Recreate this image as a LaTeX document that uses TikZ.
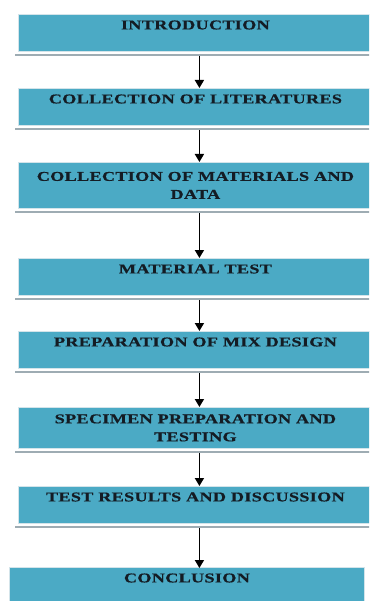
\documentclass[tikz,border=0pt]{standalone}
\usepackage{fontspec}
\usetikzlibrary{arrows.meta}
\newfontfamily\stepfont{Liberation Serif}[FakeStretch=1.35,LetterSpace=2,FakeBold=0.6]

\definecolor{stepfill}{HTML}{4BAAC5}
\definecolor{stepedge}{HTML}{D3E4EA}
\definecolor{rulegrey}{HTML}{9EACB3}
\definecolor{textdark}{HTML}{141C24}

\tikzset{
  stepbox/.style={anchor=north west, fill=stepfill, draw=stepedge, line width=0.8pt,
    minimum width=354pt, inner xsep=0pt, inner ysep=2pt, align=center,
    font=\stepfont\bfseries\fontsize{13.5}{18}\selectfont, text=textdark},
  oneline/.style={stepbox, text height=13pt, text depth=20pt},
  twoline/.style={stepbox, minimum height=#1},
  underline/.style={rulegrey, line width=1.7pt},
  arr/.style={-{Triangle[length=8pt,width=9pt]}, line width=1.7pt, black},
}

\begin{document}
\begin{tikzpicture}[x=1pt, y=-1pt]
  \useasboundingbox (0,0) rectangle (369,601);
  \clip (0,0) rectangle (369,601);
  \fill[white] (0,0) rectangle (369,601);

  % Steps, top to bottom
  \node[oneline] (intro) at (18,14) {INTRODUCTION};
  \node[oneline] (lit) at (18,88) {COLLECTION OF LITERATURES};
  \node[twoline=46pt] (mat) at (18,162) {COLLECTION OF MATERIALS AND\\DATA};
  \node[oneline] (test) at (18,258) {MATERIAL TEST};
  \node[oneline] (mix) at (18,331) {PREPARATION OF MIX DESIGN};
  \node[twoline=41pt] (spec) at (18,407) {SPECIMEN PREPARATION AND\\TESTING};
  \node[oneline] (res) at (18,486) {TEST RESULTS AND DISCUSSION};
  \node[oneline, minimum width=355pt, text depth=30pt] (concl) at (9,567) {CONCLUSION};

  % Grey rule under each box
  \foreach \b in {intro,lit,mat,test,mix,spec,res}
    \draw[underline] ([xshift=-3pt,yshift=-3pt]\b.south west) -- ([yshift=-3pt]\b.south east);

  % Arrows
  \draw[arr] ([xshift=4pt,yshift=-4pt]intro.south) -- ([xshift=4pt]lit.north);
  \draw[arr] ([xshift=4pt,yshift=-4pt]lit.south) -- ([xshift=4pt]mat.north);
  \draw[arr] ([xshift=4pt,yshift=-4pt]mat.south) -- ([xshift=4pt]test.north);
  \draw[arr] ([xshift=4pt,yshift=-4pt]test.south) -- ([xshift=4pt]mix.north);
  \draw[arr] ([xshift=4pt,yshift=-4pt]mix.south) -- ([xshift=4pt]spec.north);
  \draw[arr] ([xshift=4pt,yshift=-4pt]spec.south) -- ([xshift=4pt]res.north);
  \draw[arr] ([xshift=4pt,yshift=-4pt]res.south) -- ([xshift=4pt,yshift=-1pt]res.south |- concl.north);
\end{tikzpicture}
\end{document}
